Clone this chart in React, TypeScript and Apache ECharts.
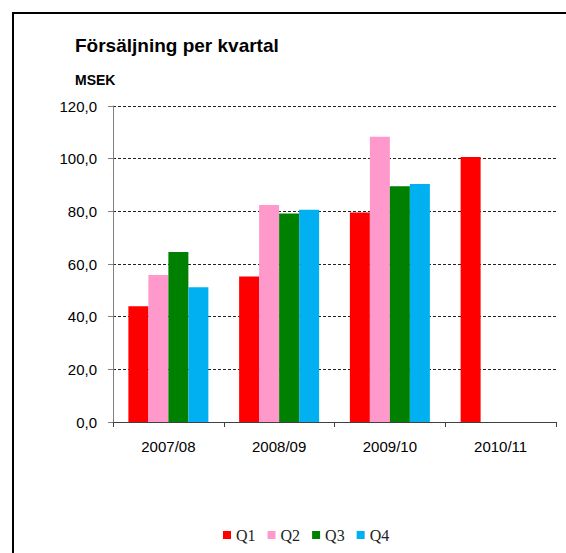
import React, { useEffect, useRef } from "react";
import * as echarts from "echarts";

const categories = ["2007/08", "2008/09", "2009/10", "2010/11"];
const q1 = [44.0, 55.3, 79.6, 100.6];
const q2 = [55.8, 82.4, 108.3, null];
const q3 = [64.6, 79.2, 89.5, null];
const q4 = [51.2, 80.6, 90.4, null];
const seriesNames = ["Q1", "Q2", "Q3", "Q4"];
const seriesColors = ["#FF0000", "#FF99CC", "#008000", "#00B0F0"];
const titleText = "Försäljning per kvartal";
const unitText = "MSEK";

export default function App() {
  const ref = useRef<HTMLDivElement>(null);
  useEffect(() => {
    if (!ref.current) return;
    const chart = echarts.init(ref.current, undefined, { renderer: "svg" });
    const values = [q1, q2, q3, q4];
    chart.setOption({
      animation: false,
      backgroundColor: "#ffffff",
      title: [
        {
          text: titleText,
          left: 75,
          top: 36,
          padding: 0,
          textStyle: { fontFamily: "Arial, Liberation Sans", fontSize: 19, fontWeight: "bold", color: "#000" },
        },
        {
          text: unitText,
          left: 75,
          top: 73,
          padding: 0,
          textStyle: { fontFamily: "Arial, Liberation Sans", fontSize: 14, fontWeight: "bold", color: "#000" },
        },
      ],
      graphic: [
        {
          type: "rect",
          shape: { x: 13, y: 13, width: 700, height: 700 },
          style: { fill: "none", stroke: "#000", lineWidth: 2 },
          silent: true,
        },
      ],
      legend: {
        left: 218,
        top: 522,
        itemWidth: 8,
        itemHeight: 8,
        itemGap: 12,
        icon: "rect",
        data: seriesNames,
        textStyle: { fontFamily: "Liberation Serif", fontSize: 16, color: "#222" },
      },
      grid: { left: 113, right: 10, top: 106, bottom: 131, containLabel: false },
      xAxis: {
        type: "category",
        data: categories,
        axisLine: { lineStyle: { color: "#404040", width: 1 } },
        axisTick: { show: true, length: 5, lineStyle: { color: "#404040" } },
        axisLabel: {
          margin: 17,
          fontFamily: "Arial, Liberation Sans",
          fontSize: 15,
          color: "#000",
        },
      },
      yAxis: {
        type: "value",
        min: 0,
        max: 120,
        interval: 20,
        axisLine: { show: true, lineStyle: { color: "#808080", width: 1 } },
        axisTick: { show: true, length: 5, lineStyle: { color: "#808080" } },
        splitLine: { show: true, lineStyle: { color: "#222", type: [3, 2], width: 1 } },
        axisLabel: {
          margin: 16,
          fontFamily: "Arial, Liberation Sans",
          fontSize: 15,
          color: "#000",
          formatter: (v: number) => v.toFixed(1).replace(".", ","),
        },
      },
      series: seriesNames.map((name, i) => ({
        name,
        type: "bar",
        data: values[i],
        barWidth: 20,
        barGap: "0%",
        itemStyle: { color: seriesColors[i] },
      })),
    });
    return () => chart.dispose();
  }, []);
  return (
    <div
      ref={ref}
      style={{ position: "fixed", left: 0, top: 0, width: 566, height: 553 }}
    />
  );
}
